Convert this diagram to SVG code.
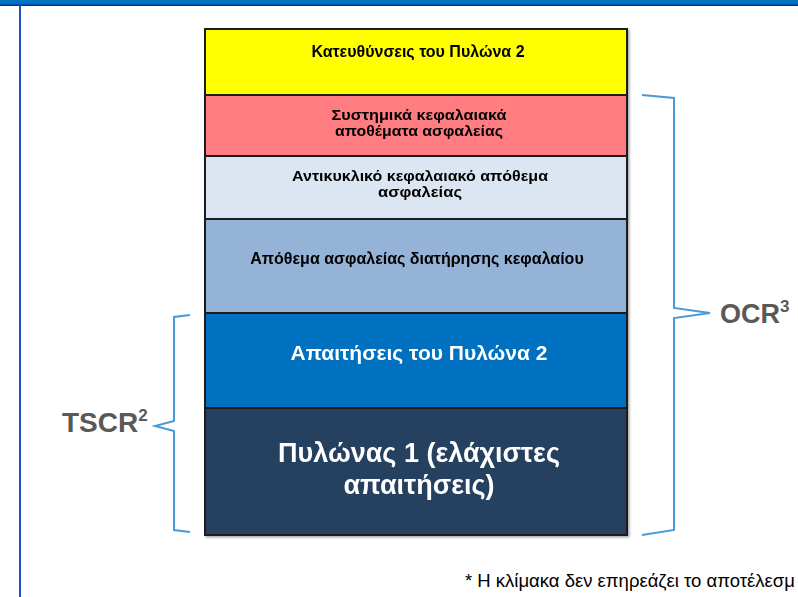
<svg xmlns="http://www.w3.org/2000/svg" width="798" height="597" viewBox="0 0 798 597">
<defs>
<style>
.blk{stroke:#1a1a1a;stroke-width:2}
.t{font-family:"Liberation Sans",Arial,sans-serif;font-weight:bold;text-anchor:middle}
.s{font-size:16px;fill:#000}
.s2{font-size:15px;fill:#000}
.br{fill:none;stroke:#4a9ad8;stroke-width:2;stroke-linejoin:miter}
.lab{font-family:"Liberation Sans",Arial,sans-serif;font-weight:bold;fill:#595959}
</style>
<filter id="sh" x="-5%" y="-5%" width="110%" height="110%"><feDropShadow dx="1.5" dy="1.5" stdDeviation="1" flood-color="#000" flood-opacity="0.35"/></filter>
</defs>
<rect width="798" height="597" fill="#fff"/>
<rect x="0" y="0" width="798" height="5" fill="#0070C0"/>
<rect x="0" y="4.5" width="798" height="1.5" fill="#003399"/>
<line x1="20" y1="5" x2="20" y2="597" stroke="#1f4fc8" stroke-width="2"/>

<g id="stack" filter="url(#sh)">
<g id="n1"><rect class="blk" x="205" y="29" width="422" height="66" fill="#FFFF00"/>
<text class="t s" x="418" y="57">Κατευθύνσεις του Πυλώνα 2</text></g>
<g id="n2"><rect class="blk" x="205" y="95" width="422" height="61" fill="#FF7C80"/>
<text class="t s2" x="419" y="120" textLength="175" lengthAdjust="spacingAndGlyphs">Συστημικά κεφαλαιακά</text>
<text class="t s2" x="419" y="136" textLength="168" lengthAdjust="spacingAndGlyphs">αποθέματα ασφαλείας</text></g>
<g id="n3"><rect class="blk" x="205" y="156" width="422" height="63" fill="#DCE6F2"/>
<text class="t s2" x="420" y="180.5" textLength="256" lengthAdjust="spacingAndGlyphs">Αντικυκλικό κεφαλαιακό απόθεμα</text>
<text class="t s2" x="420" y="196.5" textLength="84" lengthAdjust="spacingAndGlyphs">ασφαλείας</text></g>
<g id="n4"><rect class="blk" x="205" y="219" width="422" height="94" fill="#95B3D7"/>
<text class="t s" x="417" y="264">Απόθεμα ασφαλείας διατήρησης κεφαλαίου</text></g>
<g id="n5"><rect class="blk" x="205" y="313" width="422" height="95" fill="#0070C0"/>
<text class="t" x="419" y="360" font-size="21" fill="#fff">Απαιτήσεις του Πυλώνα 2</text></g>
<g id="n6"><rect class="blk" x="205" y="408" width="422" height="127" fill="#254061"/>
<text class="t" x="419" y="462" font-size="27" fill="#fff">Πυλώνας 1 (ελάχιστες</text>
<text class="t" x="419" y="494" font-size="27" fill="#fff">απαιτήσεις)</text></g>
</g>

<g id="connectors">
<path class="br" d="M642,95 L674,98 L674,308 L710,313 L674,318 L674,530 L642,535"/>
<path class="br" d="M190,315 L174,317 L174,421 L155,426 L174,431 L174,530 L190,532"/>
</g>

<g id="ocr"><text class="lab" x="720" y="323" font-size="27">OCR<tspan font-size="17" dy="-11">3</tspan></text></g>
<g id="tscr"><text class="lab" x="62" y="432" font-size="28">TSCR<tspan font-size="17" dy="-11">2</tspan></text></g>
<text x="465" y="587" font-family="'Liberation Sans',Arial,sans-serif" font-size="18.5" fill="#000">* Η κλίμακα δεν επηρεάζει το αποτέλεσμ</text>
</svg>
